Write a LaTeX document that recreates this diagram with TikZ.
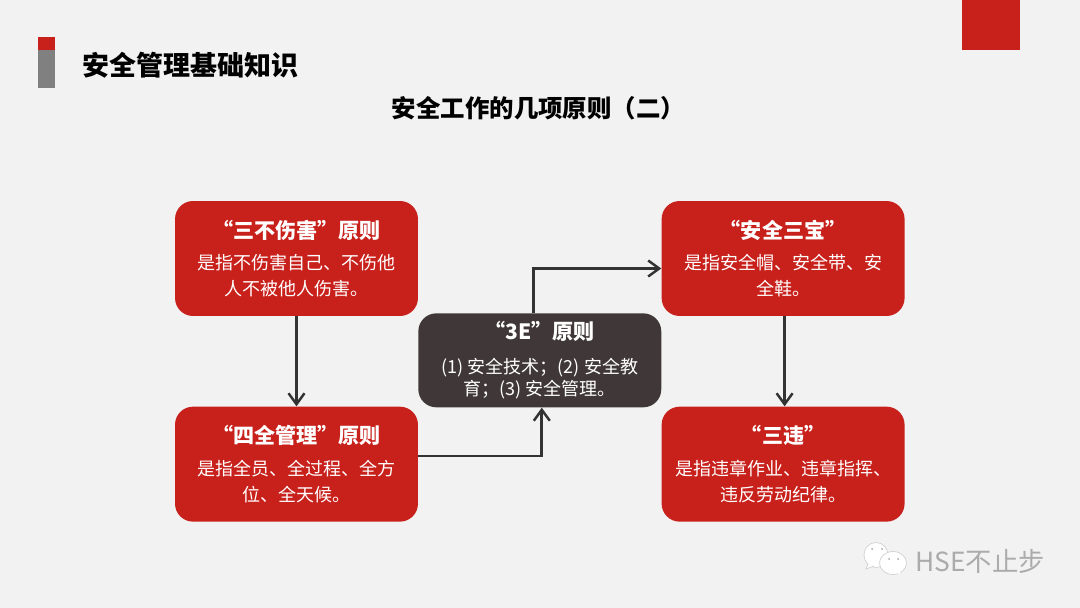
\documentclass[tikz,border=0pt]{standalone}
\usepackage{fontspec}
\setmainfont{Noto Sans CJK SC}
\usetikzlibrary{positioning,arrows.meta,calc}
\definecolor{hsered}{HTML}{C8211C}
\definecolor{hsedark}{HTML}{403838}
\definecolor{hsebg}{HTML}{F2F2F2}
\newcommand{\boxhead}[1]{{\fontsize{12}{14.8}\bfseries #1}}

\begin{document}
\begin{tikzpicture}[
  x=0.02cm, y=-0.02cm,
  node distance=1.82cm and 4.86cm,
  box/.style={draw=none,fill=hsered,rounded corners=0.36cm,minimum width=4.86cm,minimum height=2.3cm,
    inner sep=0pt,align=center,text=white,font=\fontsize{10.25}{14.8}\selectfont},
  darkbox/.style={box,fill=hsedark,minimum height=1.88cm,font=\fontsize{10.25}{12.4}\selectfont},
  conn/.style={draw=black!80,line width=1.5pt,-{Straight Barb[length=2.2mm,width=3.2mm,line width=1.4pt]}},
  bubble/.style={draw=black!18,fill=white,line width=0.4pt}
]
\useasboundingbox (0,0) rectangle (1080,608);
\fill[hsebg] (0,0) rectangle (1080,608);

% header
\fill[hsered] (962,0) rectangle (1020,50);
\fill[black!50] (38,37) rectangle (55,88);
\fill[hsered] (38,37) rectangle (55,50);
\node[anchor=west,inner sep=0pt,font=\fontsize{15.35}{18}\bfseries] (head) at (82,65) {安全管理基础知识};
\node[inner sep=0pt,font=\fontsize{13.9}{16}\bfseries] (title) at (538.5,108) {安全工作的几项原则（二）};

% boxes
\node[box] (sanbu) at (296.5,258.5) {\boxhead{“三不伤害”原则}\\[3pt]是指不伤害自己、不伤他\\人不被他人伤害。};
\node[box,below=1.8cm of sanbu] (siquan) {\boxhead{“四全管理”原则}\\[3pt]是指全员、全过程、全方\\位、全天候。};
\node[box,right=of sanbu] (sanbao) {\boxhead{“安全三宝”}\\[3pt]是指安全帽、安全带、安\\全鞋。};
\node[box,below=1.8cm of sanbao] (sanwei) {\boxhead{“三违”}\\[3pt]是指违章作业、违章指挥、\\违反劳动纪律。};
\node[darkbox] (sane) at ($(sanbu)!.5!(sanwei)+(0,-1)$) {\boxhead{“3E”原则}\\[7pt](1) 安全技术；(2) 安全教\\育；(3) 安全管理。};

\path[conn] (sanbu) -- (siquan);
\path[conn] ([xshift=0.03cm]sanbao.south) -- ([xshift=0.03cm]sanwei.north);
\path[conn] ([yshift=0.16cm]siquan.east) -| ([xshift=0.04cm]sane.south);
\path[conn] ([xshift=-0.12cm]sane.north) |- ([yshift=-0.2cm]sanbao.west);

% watermark
\draw[bubble] (876,555) ellipse (12 and 12.5);
\draw[bubble] (868,564) -- (866,569) -- (874,566);
\draw[bubble] (893,563) ellipse (13.5 and 11.5);
\fill[white] (887,570) -- (900,574) -- (900,570) -- cycle;
\fill[black!35] (872,549) circle (1) (882,549) circle (1) (889,559) circle (1) (898,559) circle (1);
\node[anchor=west,inner sep=0pt,text=black!33,font=\fontsize{15}{17}\selectfont] (mark) at (915,561) {HSE不止步};
\end{tikzpicture}
\end{document}
